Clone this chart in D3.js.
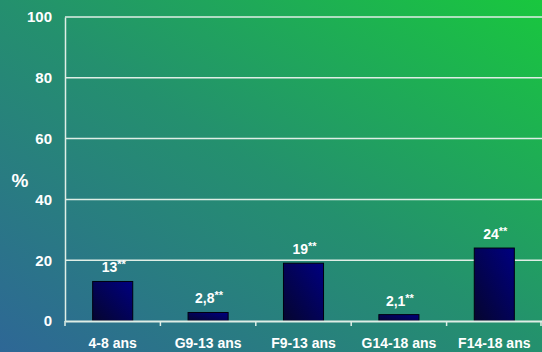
<!DOCTYPE html>
<html>
<head>
<meta charset="utf-8">
<script src="https://cdn.jsdelivr.net/npm/d3@7/dist/d3.min.js"></script>
<style>
  html, body { margin: 0; padding: 0; background: #24926c; }
  svg { display: block; }
  text { font-family: "Liberation Sans", Arial, sans-serif; font-weight: bold; fill: #ffffff; }
</style>
</head>
<body>
<script>
// Age / sex groups and their percentages
const categories = ["4-8 ans", "G9-13 ans", "F9-13 ans", "G14-18 ans", "F14-18 ans"];
const values = [13, 2.8, 19, 2.1, 24];
const valueLabels = ["13", "2,8", "19", "2,1", "24"];
const yTicks = [0, 20, 40, 60, 80, 100];

const W = 542, H = 352;
const margin = { left: 65, right: 0, top: 17, bottom: 31 };

const svg = d3.select("body").append("svg").attr("width", W).attr("height", H);
const defs = svg.append("defs");

// Diagonal background: blue at bottom-left, bright green at top-right
const bg = defs.append("linearGradient").attr("id", "bg")
  .attr("x1", "0%").attr("y1", "100%").attr("x2", "100%").attr("y2", "0%");
bg.append("stop").attr("offset", "0%").attr("stop-color", "#2e6796");
bg.append("stop").attr("offset", "50%").attr("stop-color", "#24906e");
bg.append("stop").attr("offset", "100%").attr("stop-color", "#19c73e");

// Bar fill: dark navy to blue
const bar = defs.append("linearGradient").attr("id", "bar")
  .attr("x1", "0%").attr("y1", "100%").attr("x2", "100%").attr("y2", "0%");
bar.append("stop").attr("offset", "0%").attr("stop-color", "#05052e");
bar.append("stop").attr("offset", "100%").attr("stop-color", "#000080");

svg.append("rect").attr("width", W).attr("height", H).attr("fill", "url(#bg)");

const x = d3.scaleBand().domain(categories)
  .range([margin.left, W - margin.right]).paddingInner(0).paddingOuter(0);
const y = d3.scaleLinear().domain([0, 100]).range([H - margin.bottom, margin.top]);

// Horizontal gridlines
svg.append("g").selectAll("line").data(yTicks.filter(d => d > 0)).join("line")
  .attr("x1", margin.left).attr("x2", W)
  .attr("y1", d => y(d)).attr("y2", d => y(d))
  .attr("stroke", "#dfeee6").attr("stroke-width", 1.5);

// Y axis
const yAxis = svg.append("g").attr("transform", `translate(${margin.left},0)`)
  .call(d3.axisLeft(y).tickValues(yTicks).tickSize(0).tickPadding(13));
yAxis.select(".domain").attr("stroke", "#dfeee6").attr("stroke-width", 1.5);
yAxis.selectAll("text").style("font-size", "15px").attr("fill", "#fff");

// Y axis title
svg.append("text").attr("x", 20).attr("y", 187)
  .attr("text-anchor", "middle").style("font-size", "19px").text("%");

// Bars
const bw = x.bandwidth() * 0.42;
svg.append("g").selectAll("rect").data(values).join("rect")
  .attr("x", (d, i) => x(categories[i]) + (x.bandwidth() - bw) / 2)
  .attr("width", bw)
  .attr("y", d => y(d))
  .attr("height", d => y(0) - y(d))
  .attr("fill", "url(#bar)")
  .attr("stroke", "#000010").attr("stroke-width", 1);

// Value labels with superscript asterisks
const lab = svg.append("g").selectAll("text").data(values).join("text")
  .attr("x", (d, i) => x(categories[i]) + x.bandwidth() / 2 + 1)
  .attr("y", d => y(d) - 9)
  .attr("text-anchor", "middle")
  .style("font-size", "14px");
lab.append("tspan").text((d, i) => valueLabels[i]);
lab.append("tspan").attr("dy", -4).style("font-size", "11px").text("**");

// X axis
const xAxis = svg.append("g").attr("transform", `translate(0,${y(0)})`)
  .call(d3.axisBottom(x).tickSize(0).tickPadding(17));
xAxis.select(".domain").attr("stroke", "#dfeee6").attr("stroke-width", 2);
xAxis.selectAll("text").style("font-size", "14px").attr("fill", "#fff");
xAxis.selectAll(".tick line").remove();

// Tick marks at band boundaries
const bounds = categories.map(c => x(c)).concat([x.range()[1] - 1]);
svg.append("g").selectAll("line").data(bounds).join("line")
  .attr("x1", d => d).attr("x2", d => d)
  .attr("y1", y(0)).attr("y2", y(0) + 5)
  .attr("stroke", "#dfeee6").attr("stroke-width", 1.5);
</script>
</body>
</html>
